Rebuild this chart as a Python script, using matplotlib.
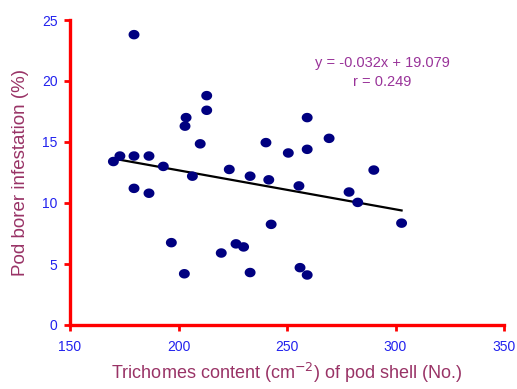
import matplotlib
matplotlib.use("Agg")
import matplotlib.pyplot as plt
import numpy as np
from matplotlib.path import Path

plt.rcParams['font.family'] = ['Liberation Sans', 'DejaVu Sans']

# trichome density (x) vs pod borer infestation (y)
trichomes = [170, 173, 179.5, 179.5, 179.5, 186.4, 186.4, 193, 196.7, 202.7,
             203, 203.5, 206.4, 210, 213, 213, 219.7, 223.4, 226.5, 230,
             233, 233, 240.3, 241.6, 242.7, 250.6, 255.5, 256, 259.3, 259.3,
             259.3, 269.4, 278.6, 282.6, 290, 302.8]
infestation = [13.4, 13.85, 23.8, 13.85, 11.2, 13.85, 10.8, 13.0, 6.75, 4.2,
               16.3, 17.0, 12.2, 14.85, 18.8, 17.6, 5.9, 12.75, 6.65, 6.4,
               12.2, 4.3, 14.95, 11.9, 8.25, 14.1, 11.4, 4.7, 17.0, 14.4,
               4.1, 15.3, 10.9, 10.05, 12.7, 8.35]

slope = -0.032
intercept = 19.079
r_value = 0.249

x_ticks = [150, 200, 250, 300, 350]
y_ticks = [0, 5, 10, 15, 20, 25]

# slightly wide ellipse marker like the original
t = np.linspace(0, 2 * np.pi, 40)
ellipse = Path(np.column_stack([np.cos(t), 0.87 * np.sin(t)]), closed=True)

fig = plt.figure(figsize=(5.17, 3.89), dpi=100)
ax = fig.add_axes([70 / 517, 64 / 389, 434 / 517, 305 / 389])

ax.scatter(trichomes, infestation, s=62, marker=ellipse, color='#000080',
           zorder=3, edgecolors='none')

xs = np.array([min(trichomes), max(trichomes)])
ax.plot(xs, slope * xs + intercept, color='black', linewidth=1.6, zorder=2)

fig.text(382 / 517, 1 - 63 / 389, f"y = {slope:.3f}x + {intercept:.3f}",
         color='#993399', fontsize=10.5, ha='center', va='center')
fig.text(382 / 517, 1 - 82 / 389, f"r = {r_value:.3f}",
         color='#993399', fontsize=10.5, ha='center', va='center')

ax.set_xlim(150, 350)
ax.set_ylim(0, 25)
ax.set_xticks(x_ticks)
ax.set_yticks(y_ticks)

for side in ['top', 'right']:
    ax.spines[side].set_visible(False)
for side in ['left', 'bottom']:
    ax.spines[side].set_color('red')
    ax.spines[side].set_linewidth(2.4)
ax.tick_params(colors='red', width=2, length=4, labelcolor='#2222ee',
               labelsize=10)
ax.tick_params(axis='x', pad=7)
ax.tick_params(axis='y', pad=5)

ax.set_xlabel("Trichomes content (cm$^{-2}$) of pod shell (No.)",
              color='#993366', fontsize=13, labelpad=5)
ax.set_ylabel("Pod borer infestation (%)", color='#993366', fontsize=13.5,
              labelpad=9)

fig.savefig("out.png", dpi=100)
